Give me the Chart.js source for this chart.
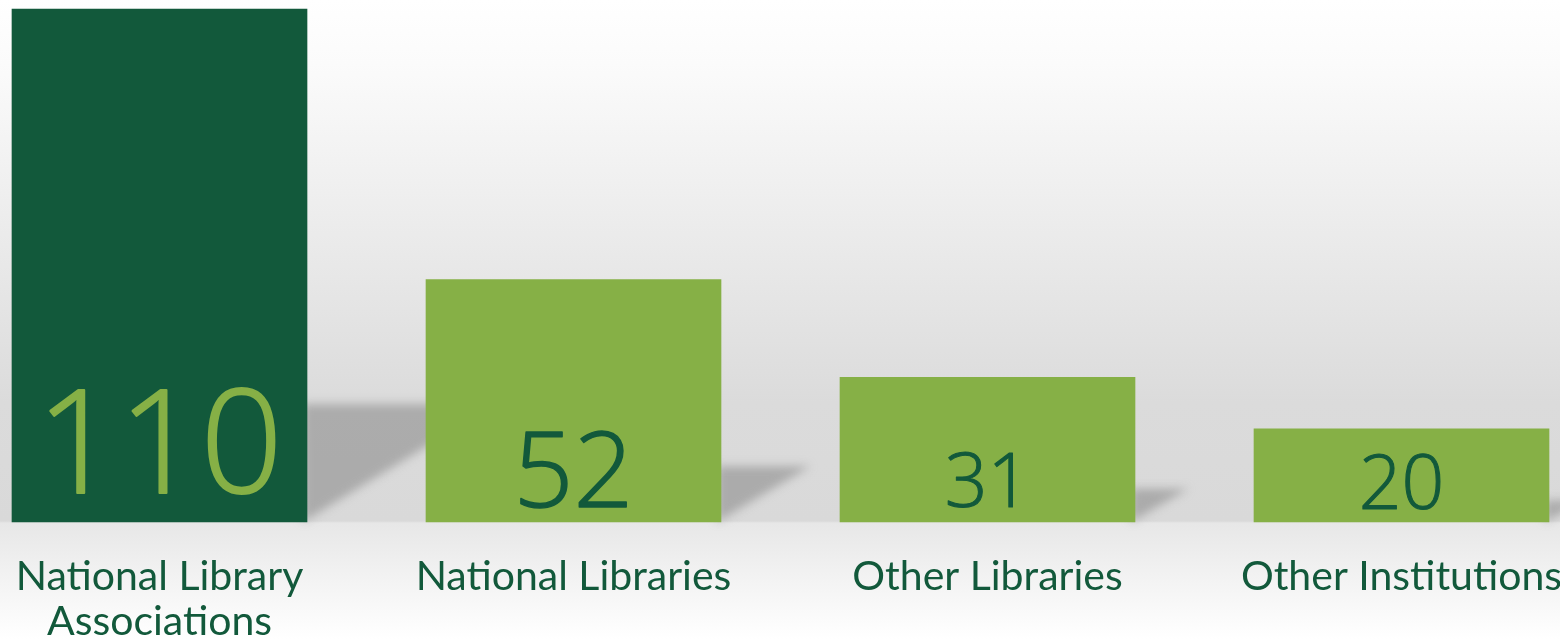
<!DOCTYPE html>
<html>
<head>
<meta charset="utf-8">
<script src="https://cdn.jsdelivr.net/npm/chart.js@4.4.1/dist/chart.umd.min.js"></script>
<style>
  html, body { margin: 0; padding: 0; background: #fff; }
  #wrap { width: 1560px; height: 639px; }
</style>
</head>
<body>
<div id="wrap"><canvas id="grafico"></canvas></div>
<script>
// datos
const categorias = [["National Library", "Associations"], "National Libraries", "Other Libraries", "Other Institutions"];
const valores = [110, 52, 31, 20];

const verdeOscuro = "#12593b";
const verdeClaro = "#86b046";
const coloresBarra = [verdeOscuro, verdeClaro, verdeClaro, verdeClaro];
const coloresTexto = [verdeClaro, verdeOscuro, verdeOscuro, verdeOscuro];
const tamTexto = [144, 105, 75, 75];
const margenTexto = [29, 15, 15, 13];

/*
* Fondo degradado
*/
const fondo = {
    id: "fondo",
    beforeDraw(chart) {
        const ctx = chart.ctx;
        const h = chart.height;
        const base = chart.chartArea.bottom;
        const g = ctx.createLinearGradient(0, 0, 0, h);
        g.addColorStop(0, "#ffffff");
        g.addColorStop(0.1, "#fbfbfb");
        g.addColorStop(0.3, "#efefef");
        g.addColorStop(0.5, "#e3e3e3");
        g.addColorStop(0.63, "#dbdbdb");
        g.addColorStop((base - 1) / h, "#d9d9d9");
        g.addColorStop((base + 1) / h, "#e7e7e7");
        g.addColorStop(0.9, "#f2f2f2");
        g.addColorStop(1, "#ffffff");
        ctx.save();
        ctx.fillStyle = g;
        ctx.fillRect(0, 0, chart.width, h);
        ctx.restore();
    }
};

/*
* Sombras de las barras
*/
const sombras = {
    id: "sombras",
    beforeDatasetsDraw(chart) {
        const ctx = chart.ctx;
        const meta = chart.getDatasetMeta(0);
        ctx.save();
        ctx.filter = "blur(5px)";
        ctx.fillStyle = "rgba(140,140,140,0.6)";
        meta.data.forEach(function (bar) {
            const alto = bar.base - bar.y;
            const hs = alto * 0.23;
            const ws = hs * 1.6;
            const der = bar.x + bar.width / 2;
            ctx.beginPath();
            ctx.moveTo(der - 4, bar.base - hs);
            ctx.lineTo(der + ws, bar.base - hs);
            ctx.lineTo(der - 4, bar.base);
            ctx.closePath();
            ctx.fill();
        });
        ctx.restore();
    }
};

/*
* Valores dentro de las barras
*/
const etiquetas = {
    id: "etiquetas",
    afterDatasetsDraw(chart) {
        const ctx = chart.ctx;
        const meta = chart.getDatasetMeta(0);
        ctx.save();
        ctx.textAlign = "center";
        ctx.textBaseline = "alphabetic";
        ctx.lineJoin = "round";
        meta.data.forEach(function (bar, i) {
            ctx.font = "300 " + tamTexto[i] + "px 'Open Sans'";
            ctx.fillStyle = coloresTexto[i];
            ctx.strokeStyle = coloresTexto[i];
            ctx.lineWidth = tamTexto[i] * 0.014;
            ctx.fillText(String(valores[i]), bar.x, bar.base - margenTexto[i]);
            ctx.strokeText(String(valores[i]), bar.x, bar.base - margenTexto[i]);
        });
        ctx.restore();
    }
};
</script>
<script>
const lienzo = document.getElementById("grafico").getContext("2d");
const miGrafico = new Chart(lienzo, {
    type: "bar",
    data: {
        labels: categorias,
        datasets: [{
            data: valores,
            backgroundColor: coloresBarra,
            borderWidth: 0,
            barThickness: 295,
            clip: false
        }]
    },
    options: {
        responsive: true,
        maintainAspectRatio: false,
        animation: false,
        layout: { padding: { left: 159.5, right: 158.5, top: 9, bottom: 0 } },
        plugins: {
            legend: { display: false },
            tooltip: { enabled: false }
        },
        scales: {
            x: {
                offset: false,
                grid: { display: false, drawTicks: false },
                border: { display: false },
                afterFit: function (eje) {
                    eje.height = 117;
                    eje.paddingLeft = 0;
                    eje.paddingRight = 0;
                },
                ticks: {
                    autoSkip: false,
                    maxRotation: 0,
                    padding: 32,
                    color: verdeOscuro,
                    font: { family: "Lato", size: 41, lineHeight: 1.1 }
                }
            },
            y: {
                display: false,
                min: 0,
                max: 110
            }
        }
    },
    plugins: [fondo, sombras, etiquetas]
});
</script>
</body>
</html>
